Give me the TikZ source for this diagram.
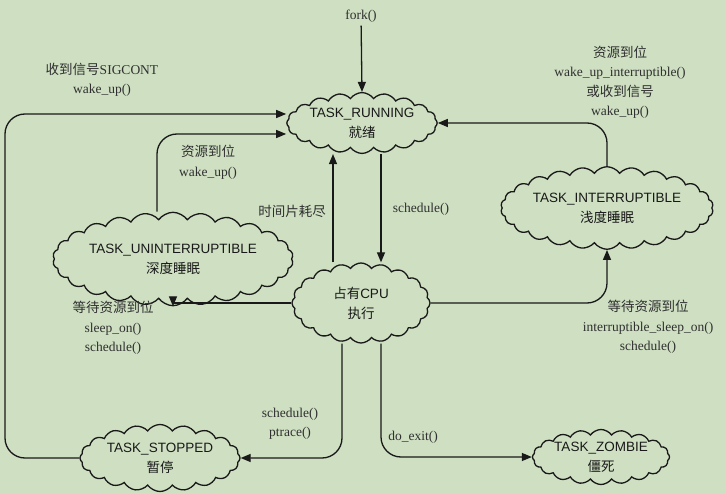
\documentclass[tikz,border=0pt]{standalone}
\usepackage{fontspec}
\setmainfont{Liberation Serif}
\setsansfont{Liberation Sans}
\newfontfamily\cjk{Noto Sans CJK SC}
\usepackage{tikz}
\usetikzlibrary{calc, shapes.symbols, arrows.meta}
\definecolor{bgcol}{RGB}{206,223,194}
\definecolor{inkcol}{RGB}{25,25,25}

\tikzset{
    state/.style={cloud, draw=inkcol, line width=1.3pt, cloud puffs=20, cloud puff arc=110,
        aspect=3, inner sep=0pt, align=center, text=inkcol,
        font=\sffamily\fontsize{13.5}{20}\selectfont},
    lbl/.style={align=center, text=inkcol!90, font=\fontsize{13.5}{19.5}\selectfont},
    arr/.style={draw=inkcol, line width=1.3pt, -{Triangle[length=10pt,width=8pt]}},
}

\begin{document}
\begin{tikzpicture}[x=1pt, y=-1pt]
    \fill[bgcol] (0,0) rectangle (726,494);
    \useasboundingbox (0,0) rectangle (726,494);

    \node[state, minimum width=140pt, minimum height=58pt] (running) at (362,123) {TASK\_RUNNING\\{\cjk 就绪}};
    \node[state, minimum width=138pt, minimum height=80pt, aspect=1.7] (cpu) at (361,303) {{\cjk 占有}CPU\\{\cjk 执行}};
    \node[state, minimum width=240pt, minimum height=68pt, cloud puffs=26] (unint) at (173,259) {TASK\_UNINTERRUPTIBLE\\{\cjk 深度睡眠}};
    \node[state, minimum width=212pt, minimum height=57pt, cloud puffs=26] (inter) at (607,208) {TASK\_INTERRUPTIBLE\\{\cjk 浅度睡眠}};
    \node[state, minimum width=160pt, minimum height=67pt] (stopped) at (160,458) {TASK\_STOPPED\\{\cjk 暂停}};
    \node[state, minimum width=137pt, minimum height=55pt] (zombie) at (601,457) {TASK\_ZOMBIE\\{\cjk 僵死}};

    \node[lbl] (fork) at (361,16) {fork()};
    \coordinate (sigtop) at (5,114);

    % arrows into TASK_RUNNING
    \draw[arr] (fork) -- (running.north);
    \draw[arr, rounded corners=20pt] (stopped.west) -| (sigtop) -- (sigtop -| running.west);
    \draw[arr, rounded corners=20pt] ($(unint.north)+(-16,0)$) |- ($(running.west)+(0,11)$);
    \draw[arr, rounded corners=20pt] (inter.north) |- (running.east);
    \draw[arr] ($(cpu.north)+(-28,0)$) -- ($(running.south)+(-29,0)$);

    % arrows out of the CPU state
    \draw[arr] ($(running.south)+(19,0)$) -- ($(cpu.north)+(20,0)$);
    \draw[arr] (cpu.west) -| (unint.south);
    \draw[arr, rounded corners=20pt] (cpu.east) -| (inter.south);
    \draw[arr, rounded corners=20pt] ($(cpu.south)+(-19,0)$) |- (stopped.east);
    \draw[arr, rounded corners=20pt] ($(cpu.south)+(20,0)$) |- (zombie.west);

    \node[lbl] (sigLbl) at (102,80) {{\cjk 收到信号}SIGCONT\\wake\_up()};
    \node[lbl] (wakeLbl) at (208,162) {{\cjk 资源到位}\\wake\_up()};
    \node[lbl] (interLbl) at (620,82) {{\cjk 资源到位}\\wake\_up\_interruptible()\\{\cjk 或收到信号}\\wake\_up()};
    \node[lbl] (sliceLbl) at (292,211) {{\cjk 时间片耗尽}};
    \node[lbl] (schedLbl) at (421,209) {schedule()};
    \node[lbl] (sleepLbl) at (113,328) {{\cjk 等待资源到位}\\sleep\_on()\\schedule()};
    \node[lbl] (isleepLbl) at (648,327) {{\cjk 等待资源到位}\\interruptible\_sleep\_on()\\schedule()};
    \node[lbl] (stopLbl) at (290,424) {schedule()\\ptrace()};
    \node[lbl] (exitLbl) at (413,437) {do\_exit()};
\end{tikzpicture}
\end{document}
